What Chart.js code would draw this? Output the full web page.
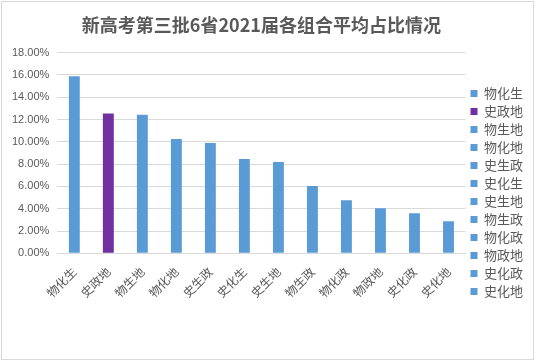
<!DOCTYPE html>
<html>
<head>
<meta charset="utf-8">
<script src="https://cdn.jsdelivr.net/npm/chart.js@4"></script>
<style>
  body { margin: 0; background: #fff; }
  #frame {
    position: absolute; left: 1px; top: 1px;
    width: 531px; height: 357px;
    border: 1px solid #d9d9d9; background: #fff;
  }
  #wrap { position: absolute; left: 0; top: 0; width: 531px; height: 357px; }
</style>
</head>
<body>
<div id="frame"><div id="wrap"><canvas id="comboChart"></canvas></div></div>
<script>
// Data: combination names and their average share (%).
const combos = ["物化生", "史政地", "物生地", "物化地", "史生政", "史化生",
                "史生地", "物生政", "物化政", "物政地", "史化政", "史化地"];
const shares = [15.87, 12.54, 12.42, 10.26, 9.90, 8.46,
                8.20, 6.03, 4.77, 4.05, 3.60, 2.88];
const yTicks = [0, 2, 4, 6, 8, 10, 12, 14, 16, 18];

const TITLE     = "新高考第三批6省2021届各组合平均占比情况";
const HIGHLIGHT = "史政地";
const BLUE      = "#5b9bd5";
const PURPLE    = "#7030a0";
const TEXT      = "#595959";
const GRID      = "#d9d9d9";
const CJK       = "'Noto Sans CJK SC', 'Noto Sans', sans-serif";

const barColors = combos.map(function (c) { return c === HIGHLIGHT ? PURPLE : BLUE; });

// one legend entry per bar, like Excel's "vary colors by point"
function pointLegend(chart) {
  const ds = chart.data.datasets[0];
  return chart.data.labels.map(function (label, i) {
    return {
      text: label,
      fillStyle: ds.backgroundColor[i],
      strokeStyle: ds.backgroundColor[i],
      lineWidth: 0,
      fontColor: TEXT,
      hidden: false,
      index: i,
    };
  });
}

new Chart(document.getElementById("comboChart"), {
  type: "bar",
  data: {
    labels: combos,
    datasets: [{
      data: shares,
      backgroundColor: barColors,
      categoryPercentage: 1,
      barPercentage: 0.32,
    }],
  },
  options: {
    responsive: true,
    maintainAspectRatio: false,
    animation: false,
    layout: { padding: { left: 2, right: 0, top: 8, bottom: 56 } },
    plugins: {
      title: {
        display: true,
        text: TITLE,
        fullSize: false,
        color: TEXT,
        font: { family: CJK, size: 18, weight: "bold" },
        padding: { top: 4, bottom: 17 },
      },
      legend: {
        position: "right",
        align: "end",
        labels: {
          generateLabels: pointLegend,
          boxWidth: 7,
          boxHeight: 7,
          padding: 5,
          color: TEXT,
          font: { family: CJK, size: 13 },
        },
      },
      tooltip: { enabled: false },
    },
    scales: {
      x: {
        grid: { display: false },
        border: { color: GRID },
        ticks: {
          color: TEXT,
          font: { family: CJK, size: 12 },
          minRotation: 45,
          maxRotation: 45,
          autoSkip: false,
        },
      },
      y: {
        min: 0,
        max: 18,
        afterBuildTicks: function (axis) {
          axis.ticks = yTicks.map(function (v) { return { value: v }; });
        },
        grid: { color: GRID, drawTicks: false },
        border: { display: false },
        ticks: {
          color: TEXT,
          padding: 8,
          font: { family: "'Liberation Sans', sans-serif", size: 11 },
          callback: function (v) { return v.toFixed(2) + "%"; },
        },
      },
    },
  },
});
</script>
</body>
</html>
